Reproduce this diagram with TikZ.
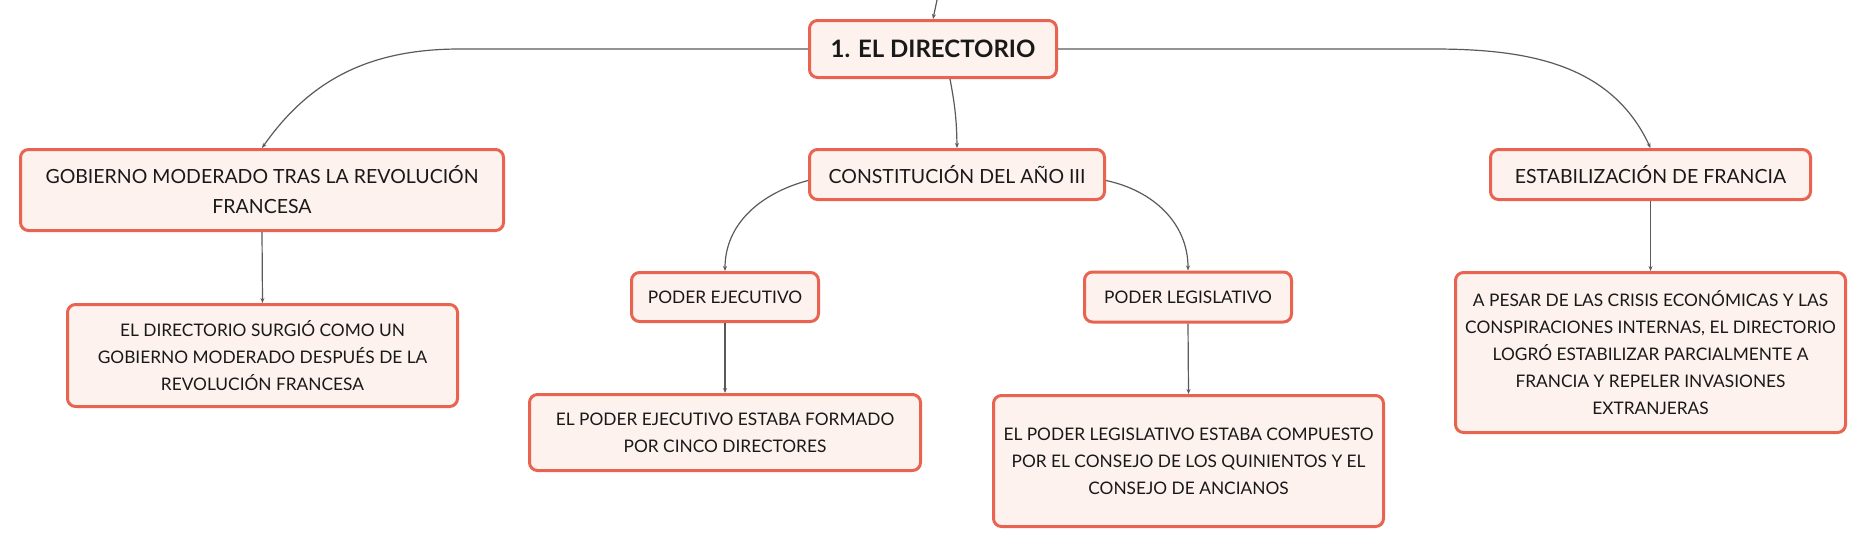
\documentclass[tikz,border=0pt]{standalone}
\usepackage{fontspec}
\setmainfont{Lato}
\usepackage{tikz}
\usetikzlibrary{arrows.meta,positioning}
\definecolor{boxline}{RGB}{232,99,80}
\definecolor{boxfill}{RGB}{253,242,238}
\definecolor{linkgray}{RGB}{90,90,90}
\definecolor{ink}{RGB}{25,25,25}
\tikzset{
  topic/.style={draw=boxline, fill=boxfill, text=ink, line width=3pt, rounded corners=8pt, align=center, inner sep=0pt, font=\fontsize{19.5}{30}\selectfont},
  leaf/.style={topic, font=\fontsize{17.3}{27}\selectfont},
  link/.style={draw=linkgray, line width=1.2pt, -{Stealth[length=5pt,width=4pt]}},
}

\begin{document}
\begin{tikzpicture}[x=1pt,y=1pt]
\useasboundingbox (0,0) rectangle (1867,-549);
\node[topic, minimum width=247pt, minimum height=57pt, font=\fontsize{24}{30}\selectfont\bfseries] (dir) at (933,-49) {1. EL DIRECTORIO};
\node[topic, minimum width=483pt, minimum height=81pt] (gob) at (262,-190) {GOBIERNO MODERADO TRAS LA REVOLUCIÓN\\FRANCESA};
\node[topic, minimum width=295pt, minimum height=50pt] (const) at (957,-174.5) {CONSTITUCIÓN DEL AÑO III};
\node[topic, minimum width=320pt, minimum height=50pt] (estab) at (1650.5,-174.5) {ESTABILIZACIÓN DE FRANCIA};
\node[leaf, minimum width=390pt, minimum height=102pt] (gobtxt) at (262.5,-355.5) {EL DIRECTORIO SURGIÓ COMO UN\\GOBIERNO MODERADO DESPUÉS DE LA\\REVOLUCIÓN FRANCESA};
\node[leaf, minimum width=187pt, minimum height=49pt] (ejec) at (725,-297) {PODER EJECUTIVO};
\node[leaf, minimum width=207pt, minimum height=50pt] (legis) at (1188,-297) {PODER LEGISLATIVO};
\node[leaf, minimum width=391pt, minimum height=76pt] (ejectxt) at (725,-432.5) {EL PODER EJECUTIVO ESTABA FORMADO\\POR CINCO DIRECTORES};
\node[leaf, minimum width=390pt, minimum height=131pt] (legistxt) at (1188.5,-461) {EL PODER LEGISLATIVO ESTABA COMPUESTO\\POR EL CONSEJO DE LOS QUINIENTOS Y EL\\CONSEJO DE ANCIANOS};
\node[leaf, minimum width=390pt, minimum height=160pt] (estabtxt) at (1650.5,-352.5) {A PESAR DE LAS CRISIS ECONÓMICAS Y LAS\\CONSPIRACIONES INTERNAS, EL DIRECTORIO\\LOGRÓ ESTABILIZAR PARCIALMENTE A\\FRANCIA Y REPELER INVASIONES\\EXTRANJERAS};
\coordinate (parent) at (937,0);
% links from the main topic
\draw[link] (parent) -- (dir.north);
\draw[link] (dir.west) -- ++(-348,0) to[out=180,in=55] (gob.north);
\draw[link] (dir.east) -- ++(375,0) to[out=0,in=115] (estab.north);
\draw[link] ([xshift=17pt]dir.south) to[bend left=5] (const.north);
% links below the subtopics
\draw[link] ([yshift=-6pt]const.west) to[out=195,in=90] (ejec.north);
\draw[link] ([yshift=-6pt]const.east) to[out=-12,in=90] (legis.north);
\draw[link] (gob.south) -- (gobtxt.north);
\draw[link] (ejec.south) -- (ejectxt.north);
\draw[link] (legis.south) -- (legistxt.north);
\draw[link] (estab.south) -- (estabtxt.north);
\end{tikzpicture}
\end{document}
